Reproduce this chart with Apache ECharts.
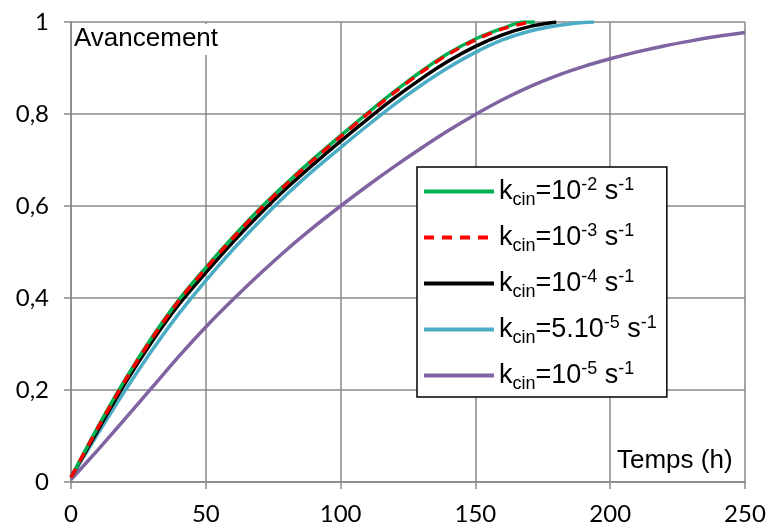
<!DOCTYPE html>
<html>
<head>
<meta charset="utf-8">
<script src="https://cdn.jsdelivr.net/npm/echarts@6/dist/echarts.min.js"></script>
<style>html,body{margin:0;padding:0;background:#fff}#c{width:769px;height:527px}</style>
</head>
<body>
<div id="c"></div>
<script>
const xTicks = [0, 50, 100, 150, 200, 250];
const yTicks = ['0', '0,2', '0,4', '0,6', '0,8', '1'];
const seriesNames = ['kcin=10-2 s-1', 'kcin=10-3 s-1', 'kcin=10-4 s-1', 'kcin=5.10-5 s-1', 'kcin=10-5 s-1'];

const tGreen = [0, 10, 20, 30, 40, 50, 60, 70, 80, 90, 100, 110, 120, 130, 140, 150, 160, 168, 172];
const yGreen = [0.01, 0.12, 0.222, 0.314, 0.396, 0.466, 0.532, 0.594, 0.65, 0.703, 0.753, 0.802, 0.849, 0.893, 0.932, 0.963, 0.986, 1.0, 1.0];

const tRed = [0, 10, 20, 30, 40, 50, 60, 70, 80, 90, 100, 110, 120, 130, 140, 150, 160, 170];
const yRed = [0.01, 0.118, 0.22, 0.312, 0.394, 0.464, 0.53, 0.592, 0.648, 0.701, 0.751, 0.8, 0.847, 0.891, 0.93, 0.961, 0.985, 1.0];

const tBlack = [0, 10, 20, 30, 40, 50, 60, 70, 80, 90, 100, 110, 120, 130, 140, 150, 160, 170, 180];
const yBlack = [0.01, 0.113, 0.214, 0.305, 0.386, 0.455, 0.521, 0.582, 0.639, 0.691, 0.741, 0.789, 0.835, 0.877, 0.915, 0.947, 0.972, 0.99, 1.0];

const tCyan = [0, 10, 20, 30, 40, 50, 60, 70, 80, 90, 100, 110, 120, 130, 140, 150, 160, 170, 180, 190, 194];
const yCyan = [0.01, 0.105, 0.198, 0.286, 0.366, 0.438, 0.505, 0.567, 0.625, 0.678, 0.727, 0.775, 0.821, 0.863, 0.901, 0.934, 0.961, 0.98, 0.992, 0.999, 1.0];

const tPurple = [0, 10, 20, 30, 40, 50, 60, 70, 80, 90, 100, 110, 120, 130, 140, 150, 160, 170, 180, 190, 200, 210, 220, 230, 240, 250];
const yPurple = [0.005, 0.07, 0.137, 0.205, 0.273, 0.337, 0.396, 0.452, 0.505, 0.554, 0.6, 0.644, 0.686, 0.726, 0.764, 0.799, 0.831, 0.859, 0.883, 0.903, 0.92, 0.935, 0.948, 0.959, 0.969, 0.977];

const zip = (t, y) => t.map((v, i) => [v, y[i]]);
const colors = ['#00B050', '#FF0000', '#000000', '#4BACC6', '#8064A2'];
const richNames = [
  '{m|k}{sub|cin}{m|=10}{sup|-2}{m| s}{sup|-1}',
  '{m|k}{sub|cin}{m|=10}{sup|-3}{m| s}{sup|-1}',
  '{m|k}{sub|cin}{m|=10}{sup|-4}{m| s}{sup|-1}',
  '{m|k}{sub|cin}{m|=5.10}{sup|-5}{m| s}{sup|-1}',
  '{m|k}{sub|cin}{m|=10}{sup|-5}{m| s}{sup|-1}'
];

const chart = echarts.init(document.getElementById('c'), null, {renderer: 'canvas'});
const gridColor = '#898989';
function mk(i, data, dashed) {
  return {
    name: seriesNames[i], type: 'line', data: data, symbol: 'none', showSymbol: false,
    smooth: 0.3,
    color: colors[i],
    lineStyle: {color: colors[i], width: 3.5, type: dashed ? [10, 8] : 'solid'},
    animation: false
  };
}
chart.setOption({
  animation: false,
  grid: {left: 71, right: 24, top: 22, bottom: 45, containLabel: false},
  xAxis: {
    type: 'value', min: 0, max: 250, interval: 50,
    axisLine: {show: true, lineStyle: {color: gridColor, width: 1.5}},
    axisTick: {show: true, inside: false, length: 7, lineStyle: {color: gridColor, width: 1.5}},
    splitLine: {show: true, lineStyle: {color: gridColor, width: 1.5}},
    axisLabel: {margin: 20, fontFamily: 'Lato', fontSize: 24, color: '#000',
      formatter: v => String(xTicks[xTicks.indexOf(v)])}
  },
  yAxis: {
    type: 'value', min: 0, max: 1, interval: 0.2,
    axisLine: {show: true, lineStyle: {color: gridColor, width: 1.5}},
    axisTick: {show: true, inside: false, length: 7, lineStyle: {color: gridColor, width: 1.5}},
    splitLine: {show: true, lineStyle: {color: gridColor, width: 1.5}},
    axisLabel: {margin: 22, fontFamily: 'Lato', fontSize: 24, color: '#000',
      formatter: v => yTicks[Math.round(v * 5)]}
  },
  legend: {
    left: 417, top: 167,
    orient: 'vertical',
    data: seriesNames,
    itemWidth: 70, itemHeight: 14, itemGap: 13,
    padding: [9, 10, 4, 5],
    borderColor: '#000', borderWidth: 1.5, backgroundColor: '#fff',
    itemStyle: {opacity: 0},
    lineStyle: {width: 4},
    formatter: name => richNames[seriesNames.indexOf(name)],
    textStyle: {
      fontFamily: 'Liberation Sans', color: '#000',
      rich: {
        m: {fontSize: 27, fontFamily: 'Liberation Sans', lineHeight: 31, verticalAlign: 'middle'},
        sub: {fontSize: 18, fontFamily: 'Liberation Sans', lineHeight: 18, verticalAlign: 'bottom', padding: [0, 0, -2, 0]},
        sup: {fontSize: 18, fontFamily: 'Liberation Sans', lineHeight: 18, verticalAlign: 'top'}
      }
    }
  },
  graphic: [
    {type: 'rect', left: 73, top: 24, shape: {width: 152, height: 31}, style: {fill: '#fff'}, z: 1},
    {type: 'text', left: 74, top: 26, z: 2, style: {text: 'Avancement', font: '26px "Liberation Sans"', fill: '#000'}},
    {type: 'text', left: 617, top: 448, z: 2, style: {text: 'Temps (h)', font: '26px "Liberation Sans"', fill: '#000'}}
  ],
  series: [
    mk(4, zip(tPurple, yPurple)),
    mk(3, zip(tCyan, yCyan)),
    mk(2, zip(tBlack, yBlack)),
    mk(0, zip(tGreen, yGreen)),
    mk(1, zip(tRed, yRed), true)
  ]
});
</script>
</body>
</html>
